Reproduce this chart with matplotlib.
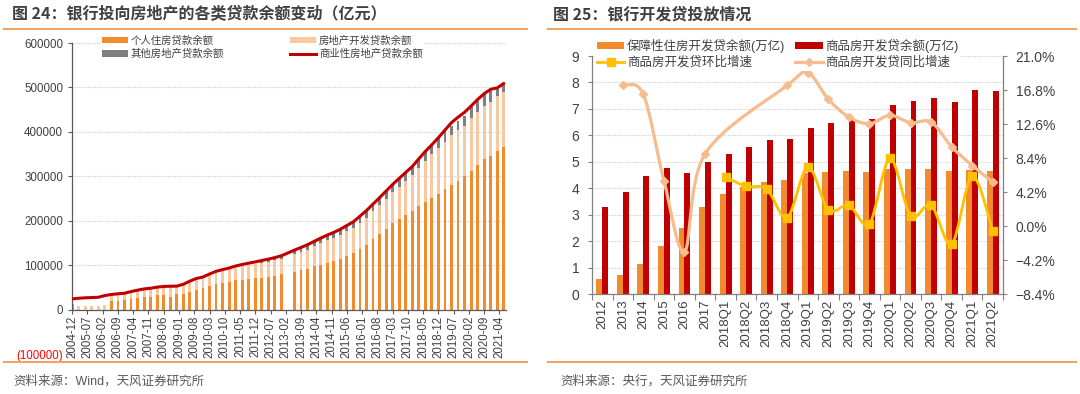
import numpy as np
import pandas as pd
import matplotlib
matplotlib.use('Agg')
import matplotlib.pyplot as plt
from matplotlib.patches import Patch, PathPatch
from matplotlib.lines import Line2D
from matplotlib.path import Path

plt.rcParams['font.family'] = ['Liberation Sans', 'Noto Sans CJK SC']
plt.rcParams['axes.unicode_minus'] = True

nan = np.nan

# ---------------- Left chart data (quarter ends 2004-12 .. 2021-06), 亿元 ----------------
quarters = pd.date_range('2004-12-31', '2021-06-30', freq='QE')

commercial_re = [24000, 25500, 26500, 27000, 27700, 31500, 34000, 35500, 36800, 40500, 43700, 46500, 48000,
                 50500, 52000, 52600, 52800, 57000, 64000, 70000, 73300, 80000, 86000, 90000, 93500,
                 98000, 101500, 104500, 107300, 110500, 113500, 117000, 121100, 127500, 133900, 139800, 146100,
                 153500, 160800, 167600, 173700, 180700, 189200, 197600, 210100, 222900, 237400, 251800, 266800,
                 281700, 295300, 308700, 322000, 339200, 356000, 371000, 387000, 404000, 420800, 433000, 444100,
                 458200, 473000, 486000, 495800, 499000, 509000]

personal_housing = [12000, nan, nan, nan, nan, nan, 20000, 20300, 22600, 24000, 26300, 29300, 29300, 33000, 33800,
                    28500, 34600, 36000, 40000, 45000, 48000, 53000, 57000, 60000, 63000, 65500, 67500, 69000,
                    70000, 71500, 72500, 74500, 80000, nan, 84000, 88000, 92000, 97000, 101000, 105000, 110000,
                    114000, 120000, 127000, 136000, 146000, 158000, 170000, 182000, 194000, 204000, 213000, 222000,
                    232000, 242000, 252000, 261000, 270700, 281000, 289500, 300800, 312000, 325600, 338300, 345900,
                    357100, 366200]

re_development = [0, 7000, 7500, 8000, 8000, 11000, 10000, 13500, 12700, 15000, 17300, 17300, 19700, 18000, 18800,
                  22500, 19400, 19000, 21000, 22000, 23000, 24000, 25000, 26500, 27500, 29000, 30000, 31500,
                  33000, 34000, 35000, 36000, 34000, nan, 40000, 41500, 43000, 45000, 48000, 50500, 51500,
                  54000, 56000, 57000, 59000, 61000, 63000, 65000, 67000, 70000, 73000, 77000, 81000,
                  87000, 93000, 97500, 103000, 107300, 111000, 114300, 112700, 118800, 119400, 120300, 120300,
                  124100, 122500]

other_re = [0] * 29 + [2500, 3000, 4000, 8000, nan, 10000, 10300, 11000, 11500, 11800, 12100, 12200,
                       12700, 13200, 13600, 15100, 15900, 16400, 16800, 17800, 17700, 18300, 18700, 19000,
                       20200, 21000, 21500, 23000, 24000, 21500, 21000, 22500, 24200, 25000, 26400, 26300,
                       15000, 18800]

left_tick_labels = ['2004-12', '2005-07', '2006-02', '2006-09', '2007-04', '2007-11', '2008-06', '2009-01',
                    '2009-08', '2010-03', '2010-10', '2011-05', '2011-12', '2012-07', '2013-02', '2013-09',
                    '2014-04', '2014-11', '2015-06', '2016-01', '2016-08', '2017-03', '2017-10', '2018-05',
                    '2018-12', '2019-07', '2020-02', '2020-09', '2021-04']

left_legend = ['个人住房贷款余额', '房地产开发贷款余额', '其他房地产贷款余额', '商业性房地产贷款余额']

# ---------------- Right chart data ----------------
right_cats = ['2012', '2013', '2014', '2015', '2016', '2017', '2018Q1', '2018Q2', '2018Q3', '2018Q4',
              '2019Q1', '2019Q2', '2019Q3', '2019Q4', '2020Q1', '2020Q2', '2020Q3', '2020Q4', '2021Q1', '2021Q2']
affordable_dev = [0.57, 0.71, 1.14, 1.83, 2.50, 3.30, 3.80, 4.05, 4.25, 4.32, 4.58, 4.62, 4.65, 4.62,
                  4.71, 4.72, 4.72, 4.65, 4.70, 4.65]
commercial_dev = [3.28, 3.85, 4.47, 4.75, 4.58, 4.99, 5.29, 5.57, 5.82, 5.86, 6.29, 6.46, 6.58, 6.60,
                  7.15, 7.28, 7.43, 7.25, 7.71, 7.66]
qoq_growth = [nan, nan, nan, nan, nan, nan, 6.06, 4.89, 4.57, 1.05, 7.3, 2.02, 2.56, 0.29,
              8.34, 1.28, 2.56, -2.23, 6.15, -0.58]
yoy_growth = [nan, 17.37, 16.26, 5.6, -3.16, 8.9, nan, nan, nan, 17.37, 18.94, 15.65, 13.46, 12.64,
              13.67, 12.76, 12.84, 9.79, 7.47, 5.45]
right_ticks_pct = [-8.4, -4.2, 0.0, 4.2, 8.4, 12.6, 16.8, 21.0]
right_legend = ['保障性住房开发贷余额(万亿)', '商品房开发贷余额(万亿)', '商品房开发贷环比增速', '商品房开发贷同比增速']

# ---------------- colours ----------------
C_ORANGE = '#F28A2E'
C_PEACH = '#F9C7A0'
C_GRAY = '#7F7F7F'
C_RED = '#C00000'
C_YELLOW = '#FFC000'
C_YOY = '#F6BC8E'
C_RULE = '#F3A462'
C_TEXT = '#404040'
C_GRID = '#D0D0D0'

W, H = 1080, 394
fig = plt.figure(figsize=(W / 100, H / 100), dpi=100)


def fx(px):
    return px / W


def fy(py):
    return 1 - py / H


# ---------------- frame decorations ----------------
fig.text(fx(12), fy(14), '图 24：银行投向房地产的各类贷款余额变动（亿元）', fontsize=11.5, fontweight='bold',
         color=C_TEXT, va='center', ha='left', family=['Noto Sans CJK SC'])
fig.text(fx(553), fy(14), '图 25：银行开发贷投放情况', fontsize=11.5, fontweight='bold',
         color=C_TEXT, va='center', ha='left', family=['Noto Sans CJK SC'])
for x0, x1 in [(4, 527), (548, 1076)]:
    for yy in (29, 362):
        fig.add_artist(Line2D([fx(x0), fx(x1)], [fy(yy), fy(yy)], color=C_RULE, lw=1.5,
                              transform=fig.transFigure))
fig.text(fx(13), fy(381), '资料来源：Wind，天风证券研究所', fontsize=9, color='#595959', va='center', ha='left')
fig.text(fx(560), fy(381), '资料来源：央行，天风证券研究所', fontsize=9, color='#595959', va='center', ha='left')

# ---------------- Left chart ----------------
axL = fig.add_axes([fx(71.5), fy(354), fx(506) - fx(71.5), fy(43) - fy(354)])
months = np.array([(d.year - 2004) * 12 + d.month - 12 for d in quarters])
P = np.array(personal_housing, dtype=float)
D = np.array(re_development, dtype=float)
O = np.array(other_re, dtype=float)
valid = ~np.isnan(D)
Pz = np.nan_to_num(P)
bw = 1.3
axL.bar(months[valid], Pz[valid], width=bw, color=C_ORANGE, zorder=2, linewidth=0)
axL.bar(months[valid], D[valid], bottom=Pz[valid], width=bw, color=C_PEACH, zorder=2, linewidth=0)
axL.bar(months[valid], O[valid], bottom=(Pz + np.nan_to_num(D))[valid], width=bw, color=C_GRAY, zorder=2,
        linewidth=0)
axL.plot(months, commercial_re, color=C_RED, lw=2.2, zorder=3, solid_capstyle='round')

axL.set_xlim(-0.3, 199)
axL.set_ylim(-100000, 600000)
yt = list(range(-100000, 600001, 100000))
axL.set_yticks(yt)
axL.set_yticklabels(['(100000)' if v < 0 else str(v) for v in yt])
axL.set_xticks(np.arange(0, 197, 7))
axL.set_xticklabels(left_tick_labels)
axL.tick_params(axis='x', labelsize=8.3, labelcolor=C_TEXT, color='#595959', length=3, width=0.8, pad=1.5,
                direction='out', labelrotation=90)
for t in axL.get_xticklabels():
    t.set_va('top')
    t.set_ha('center')
axL.tick_params(axis='y', labelsize=8.3, labelcolor=C_TEXT, color='#595959', length=3, width=0.8, pad=3,
                direction='out')
axL.yaxis.get_major_ticks()[0].label1.set_color('#FF0000')
for s in ('top', 'right'):
    axL.spines[s].set_visible(False)
axL.spines['bottom'].set_position(('data', 0))
axL.spines['left'].set_bounds(0, 600000)
for s in ('bottom', 'left'):
    axL.spines[s].set_color('#595959')
    axL.spines[s].set_linewidth(0.9)
axL.yaxis.grid(True, color=C_GRID, linestyle=(0, (1, 1)), linewidth=0.8)
axL.set_axisbelow(True)

hL = [Patch(facecolor=C_ORANGE, label=left_legend[0]),
      Patch(facecolor=C_GRAY, label=left_legend[2]),
      Patch(facecolor=C_PEACH, label=left_legend[1]),
      Line2D([], [], color=C_RED, lw=2.2, label=left_legend[3])]
legL = axL.legend(handles=hL, ncol=2, loc='upper left', bbox_to_anchor=(fx(100), fy(34)),
                  bbox_transform=fig.transFigure, fontsize=7.5, frameon=True, fancybox=False,
                  edgecolor='none', facecolor='white', framealpha=1, borderpad=0.15, borderaxespad=0,
                  handlelength=2.5, handleheight=0.55, handletextpad=0.3, labelspacing=0.3, columnspacing=6.3)
for t in legL.get_texts():
    t.set_color(C_TEXT)

# ---------------- Right chart ----------------
axR = fig.add_axes([fx(592), fy(294), fx(1003) - fx(592), fy(56) - fy(294)])
xr = np.arange(len(right_cats))
bwr = 0.29
axR.bar(xr - bwr / 2, affordable_dev, width=bwr, color=C_ORANGE, zorder=2, linewidth=0)
axR.bar(xr + bwr / 2, commercial_dev, width=bwr, color=C_RED, zorder=2, linewidth=0)
axR.set_xlim(-0.5, len(right_cats) - 0.5)
axR.set_ylim(0, 9)
axR.set_yticks(range(0, 10))
axR.yaxis.grid(True, color=C_GRID, linestyle=(0, (1, 1)), linewidth=0.8)
axR.set_axisbelow(True)
axR.set_xticks(xr)
axR.set_xticklabels(right_cats)
axR.set_xticks(np.arange(-0.5, len(right_cats), 1), minor=True)
axR.tick_params(axis='x', which='major', length=0, labelsize=9.5, labelcolor=C_TEXT, pad=4, labelrotation=90)
for t in axR.get_xticklabels():
    t.set_va('top')
    t.set_ha('center')
axR.tick_params(axis='x', which='minor', length=4, width=0.8, color='#808080')
axR.tick_params(axis='y', labelsize=10, labelcolor=C_TEXT, length=3, width=0.8, color='#808080', pad=6)
for s in ('top', 'right'):
    axR.spines[s].set_visible(False)
for s in ('bottom', 'left'):
    axR.spines[s].set_color('#808080')
    axR.spines[s].set_linewidth(0.9)

axR2 = axR.twinx()
axR2.set_ylim(-8.4, 21.0)
axR2.set_yticks(right_ticks_pct)
axR2.set_yticklabels([('%.1f%%' % v).replace('-', '\u2212') for v in right_ticks_pct])
axR2.tick_params(axis='y', labelsize=10, labelcolor=C_TEXT, length=3, width=0.8, color='#808080', pad=6)
for s in ('top', 'left', 'bottom'):
    axR2.spines[s].set_visible(False)
axR2.spines['right'].set_color('#808080')
axR2.spines['right'].set_linewidth(0.9)


def smooth_path(xs, ys):
    pts = np.column_stack([xs, ys]).astype(float)
    n = len(pts)
    verts = [pts[0]]
    codes = [Path.MOVETO]
    for i in range(n - 1):
        p0 = pts[i - 1] if i > 0 else pts[i]
        p1, p2 = pts[i], pts[i + 1]
        p3 = pts[i + 2] if i + 2 < n else pts[i + 1]
        verts += [p1 + (p2 - p0) / 6.0, p2 - (p3 - p1) / 6.0, p2]
        codes += [Path.CURVE4] * 3
    return Path(verts, codes)


def smooth_line(ax, xs, ys, color, lw, marker, ms, zorder):
    ys = np.array(ys, dtype=float)
    m = ~np.isnan(ys)
    ax.add_patch(PathPatch(smooth_path(xs[m], ys[m]), facecolor='none', edgecolor=color, lw=lw,
                           zorder=zorder, capstyle='round', joinstyle='round'))
    ax.plot(xs[m], ys[m], linestyle='none', marker=marker, ms=ms, color=color, mec=color, zorder=zorder + 0.1)


smooth_line(axR2, xr, yoy_growth, C_YOY, 2.3, 'D', 4.2, 3)
smooth_line(axR2, xr, qoq_growth, C_YELLOW, 2.0, 's', 6.0, 4)

hR = [Patch(facecolor=C_ORANGE, label=right_legend[0]),
      Line2D([], [], color=C_YELLOW, lw=2.0, marker='s', ms=6, label=right_legend[2]),
      Patch(facecolor=C_RED, label=right_legend[1]),
      Line2D([], [], color=C_YOY, lw=2.3, marker='D', ms=4.2, label=right_legend[3])]
legR = axR2.legend(handles=hR, ncol=2, loc='upper left', bbox_to_anchor=(fx(595), fy(37)),
                   bbox_transform=fig.transFigure, fontsize=9, frameon=True, fancybox=False,
                   edgecolor='none', facecolor='white', framealpha=1, borderpad=0.15, borderaxespad=0,
                   handlelength=2.2, handleheight=0.5, handletextpad=0.2, labelspacing=0.25, columnspacing=0.8)
for t in legR.get_texts():
    t.set_color(C_TEXT)

fig.savefig('out.png', dpi=100)
